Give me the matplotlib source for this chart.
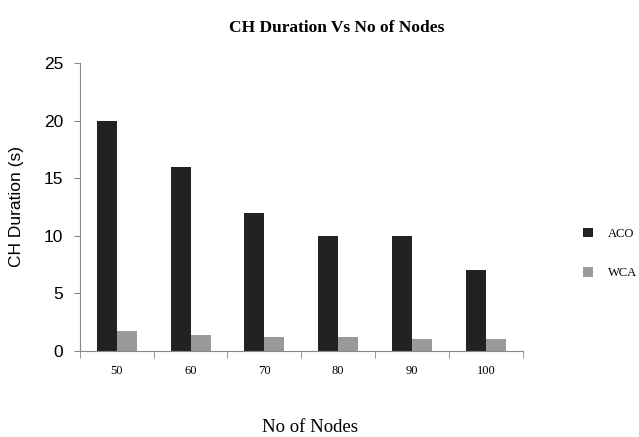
import matplotlib
matplotlib.use("Agg")
import matplotlib.pyplot as plt
import numpy as np

categories = ["50", "60", "70", "80", "90", "100"]
aco = [20, 16, 12, 10, 10, 7]
wca = [1.7, 1.4, 1.2, 1.2, 1.0, 1.0]
series_names = ["ACO", "WCA"]

fig = plt.figure(figsize=(6.39, 4.37), dpi=100)
ax = fig.add_axes([0.125, 0.197, 0.693, 0.659])

x = np.arange(len(categories))
w = 0.27
b1 = ax.bar(x - w / 2, aco, width=w, color="#222222", label=series_names[0])
b2 = ax.bar(x + w / 2, wca, width=w, color="#9a9a9a", label=series_names[1])

ax.set_xlim(-0.5, len(categories) - 0.5)
ax.set_ylim(0, 25)
ax.set_yticks([0, 5, 10, 15, 20, 25])
for s in ["top", "right"]:
    ax.spines[s].set_visible(False)
for s in ["left", "bottom"]:
    ax.spines[s].set_color("#888888")
    ax.spines[s].set_linewidth(0.8)

ax.set_xticks(x)
ax.set_xticklabels(categories, family="Liberation Serif", fontsize=9)
ax.tick_params(axis="x", length=0, pad=10)
ax.set_xticks(np.arange(-0.5, len(categories)), minor=True)
ax.tick_params(axis="x", which="minor", length=5, color="#888888")
ax.tick_params(axis="y", length=4, color="#888888", labelsize=12.5, pad=8)
for t in ax.get_yticklabels():
    t.set_family("Liberation Sans")

ax.set_ylabel("CH Duration (s)", family="Liberation Sans", fontsize=12.5, labelpad=14)
fig.text(0.485, 0.022, "No of Nodes", family="Liberation Serif", fontsize=13.5, ha="center", va="center")
fig.text(0.527, 0.935, "CH Duration Vs No of Nodes", family="Liberation Serif", fontsize=12.5, fontweight="bold", ha="center", va="center")

leg = fig.legend(handles=[b1, b2], loc="center left", bbox_to_anchor=(0.895, 0.42),
                 frameon=False, prop={"family": "Liberation Serif", "size": 9},
                 handlelength=0.8, handleheight=0.8, labelspacing=2.2, handletextpad=1.2)

fig.savefig("out.png", dpi=100)
